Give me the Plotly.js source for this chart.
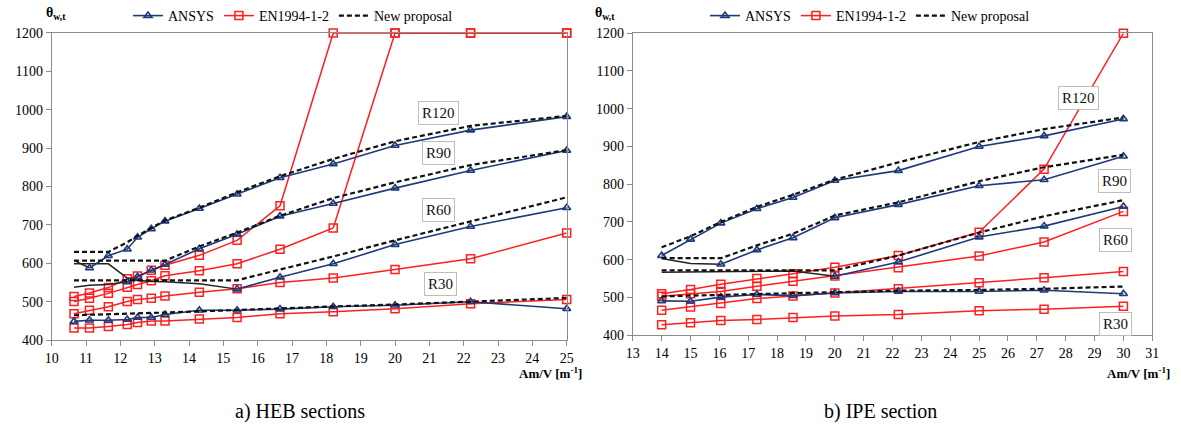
<!DOCTYPE html>
<html><head><meta charset="utf-8">
<script src="https://cdn.plot.ly/plotly-3.0.1.min.js"></script>
<style>html,body{margin:0;padding:0;background:#fff}#chart{width:1181px;height:434px}</style>
</head><body><div id="chart"></div>
<script>
// ---------- HEB sections (left) ----------
const hebX = [10.65, 11.1, 11.65, 12.2, 12.5, 12.9, 13.3, 14.3, 15.4, 16.65, 18.2, 20, 22.2, 25];
const hebAnsysR30 = [449, 452, 452, 454, 459, 459, 467, 478, 478, 481, 487, 491, 500, 482];
const hebAnsysR60EarlyX = [10.65, 11.1, 11.65, 12.2, 12.5, 12.9, 13.3, 14.3, 15.4];
const hebAnsysR60Early = [599, 599, 599, 562, 556, 553, 552, 547, 533];
const hebAnsysR60X = [15.4, 16.65, 18.2, 20, 22.2, 25];
const hebAnsysR60 = [533, 564, 599, 649, 696, 745];
const hebAnsysR90EarlyX = [10.65, 11.1, 11.65, 12.2];
const hebAnsysR90Early = [538, 543, 545, 552];
const hebAnsysR90X = [12.2, 12.5, 12.9, 13.3, 14.3, 15.4, 16.65, 18.2, 20, 22.2, 25];
const hebAnsysR90 = [552, 565, 582, 597, 638, 676, 723, 756, 796, 842, 894];
const hebAnsysR120EarlyX = [10.65, 11.1];
const hebAnsysR120Early = [608, 588];
const hebAnsysR120X = [11.1, 11.65, 12.2, 12.5, 12.9, 13.3, 14.3, 15.4, 16.65, 18.2, 20, 22.2, 25];
const hebAnsysR120 = [588, 620, 637, 668, 690, 710, 743, 780, 823, 859, 907, 947, 982];
const hebEnR30 = [432, 432, 436, 441, 446, 450, 450, 455, 459, 469, 474, 482, 495, 506];
const hebEnR60 = [469, 478, 487, 501, 506, 509, 515, 525, 534, 550, 562, 584, 612, 679];
const hebEnR90 = [501, 509, 522, 538, 545, 555, 568, 581, 599, 637, 692, 1200, 1200, 1200];
const hebEnR120 = [514, 523, 537, 560, 567, 582, 595, 621, 660, 750, 1200, 1200, 1200, 1200];
const hebPropR30 = [465, 466, 467, 469, 470, 471, 472, 475, 479, 483, 488, 493, 501, 510];
const hebPropR60 = [556, 556, 556, 556, 556, 556, 556, 556, 556, 584, 618, 660, 710, 772];
const hebPropR90 = [607, 607, 607, 607, 607, 607, 607, 644, 680, 724, 770, 811, 856, 895];
const hebPropR120 = [630, 630, 630, 655, 672, 692, 712, 745, 785, 827, 872, 918, 958, 984];

// ---------- IPE sections (right) ----------
const ipeX = [14, 15, 16.05, 17.3, 18.55, 20, 22.2, 25, 27.25, 30];
const ipeAnsysR30 = [491, 490, 501, 508, 505, 512, 516, 516, 519, 510];
const ipeAnsysR60EarlyX = [14, 15, 16.05, 17.3, 18.55, 20];
const ipeAnsysR60Early = [567, 568, 568, 570, 570, 556];
const ipeAnsysR60X = [20, 22.2, 25, 27.25, 30];
const ipeAnsysR60 = [556, 594, 660, 689, 741];
const ipeAnsysR90EarlyX = [14, 15, 16.05];
const ipeAnsysR90Early = [603, 590, 588];
const ipeAnsysR90X = [16.05, 17.3, 18.55, 20, 22.2, 25, 27.25, 30];
const ipeAnsysR90 = [588, 626, 658, 711, 746, 796, 812, 874];
const ipeAnsysR120 = [611, 654, 697, 735, 765, 810, 836, 900, 928, 973];
const ipeEnR30 = [428, 433, 439, 442, 447, 451, 455, 465, 469, 477];
const ipeEnR60 = [466, 475, 484, 497, 504, 512, 523, 539, 552, 569];
const ipeEnR90 = [503, 510, 516, 530, 543, 557, 579, 610, 647, 728];
const ipeEnR120 = [510, 521, 535, 550, 563, 580, 611, 673, 840, 1200];
const ipePropR30 = [503, 505, 507, 509, 511, 514, 518, 520, 523, 529];
const ipePropR60 = [572, 572, 572, 572, 572, 572, 611, 672, 715, 758];
const ipePropR90 = [604, 604, 604, 638, 669, 717, 752, 808, 845, 878];
const ipePropR120 = [633, 662, 700, 740, 772, 812, 858, 912, 946, 977];

const seriesNames = ['ANSYS', 'EN1994-1-2', 'New proposal'];
const rLabels = ['R30', 'R60', 'R90', 'R120'];
const captions = ['a) HEB sections', 'b) IPE section'];

const BLUE = '#1f3a78', RED = '#ff1f1f', BLACK = '#111111';
const SERIF = '"Times New Roman", "Liberation Serif", Times, serif';
const traces = [];

function add(x, y, kind, panel, legendShow) {
  const t = {x: x, y: y, type: 'scatter', cliponaxis: false, hoverinfo: 'x+y',
    xaxis: panel === 1 ? 'x' : 'x2', yaxis: panel === 1 ? 'y' : 'y2',
    legend: panel === 1 ? 'legend' : 'legend2', showlegend: !!legendShow};
  if (kind === 'ansys') {
    t.mode = 'lines+markers'; t.name = seriesNames[0];
    t.line = {color: BLUE, width: 1.6};
    t.marker = {symbol: 'triangle-up-open', size: 7, color: BLUE, line: {color: BLUE, width: 1.6}};
  } else if (kind === 'en') {
    t.mode = 'lines+markers'; t.name = seriesNames[1];
    t.line = {color: RED, width: 1.5};
    t.marker = {symbol: 'square-open', size: 8, color: RED, line: {color: RED, width: 1.5}};
  } else if (kind === 'prop') {
    t.mode = 'lines'; t.name = seriesNames[2];
    t.line = {color: BLACK, width: 2.2, dash: '5px,3px'};
  } else {
    t.mode = 'lines'; t.name = 'early';
    t.line = {color: '#222222', width: 1.5};
  }
  traces.push(t);
}

// Left panel
add(hebX, hebEnR30, 'en', 1); add(hebX, hebEnR60, 'en', 1); add(hebX, hebEnR90, 'en', 1); add(hebX, hebEnR120, 'en', 1);
add(hebAnsysR60EarlyX, hebAnsysR60Early, 'early', 1);
add(hebAnsysR90EarlyX, hebAnsysR90Early, 'early', 1);
add(hebAnsysR120EarlyX, hebAnsysR120Early, 'early', 1);
add(hebX, hebAnsysR30, 'ansys', 1); add(hebAnsysR60X, hebAnsysR60, 'ansys', 1);
add(hebAnsysR90X, hebAnsysR90, 'ansys', 1); add(hebAnsysR120X, hebAnsysR120, 'ansys', 1);
add(hebX, hebPropR30, 'prop', 1); add(hebX, hebPropR60, 'prop', 1); add(hebX, hebPropR90, 'prop', 1); add(hebX, hebPropR120, 'prop', 1);
add([null], [null], 'ansys', 1, true); add([null], [null], 'en', 1, true); add([null], [null], 'prop', 1, true);

// Right panel
add(ipeX, ipeEnR30, 'en', 2); add(ipeX, ipeEnR60, 'en', 2); add(ipeX, ipeEnR90, 'en', 2); add(ipeX, ipeEnR120, 'en', 2);
add(ipeAnsysR60EarlyX, ipeAnsysR60Early, 'early', 2);
add(ipeAnsysR90EarlyX, ipeAnsysR90Early, 'early', 2);
add(ipeX, ipeAnsysR30, 'ansys', 2); add(ipeAnsysR60X, ipeAnsysR60, 'ansys', 2);
add(ipeAnsysR90X, ipeAnsysR90, 'ansys', 2); add(ipeX, ipeAnsysR120, 'ansys', 2);
add(ipeX, ipePropR30, 'prop', 2); add(ipeX, ipePropR60, 'prop', 2); add(ipeX, ipePropR90, 'prop', 2); add(ipeX, ipePropR120, 'prop', 2);
add([null], [null], 'ansys', 2, true); add([null], [null], 'en', 2, true); add([null], [null], 'prop', 2, true);

const W = 1181, H = 434;
const px = v => v / W, py = v => 1 - v / H;

const axisCommon = {showline: true, mirror: true, linecolor: '#8c8c8c', linewidth: 1,
  ticks: 'outside', ticklen: 5, tickcolor: '#8c8c8c', showgrid: false, zeroline: false,
  tickfont: {family: SERIF, size: 14, color: '#000'}, fixedrange: true};

const boxStyle = {showarrow: false, xref: 'paper', yref: 'paper', bordercolor: '#bdbdbd', borderwidth: 1,
  borderpad: 3, bgcolor: '#ffffff', font: {family: SERIF, size: 15, color: '#111'}, xanchor: 'center', yanchor: 'middle'};

const annotations = [
  Object.assign({text: rLabels[3], x: px(438), y: py(112)}, boxStyle),
  Object.assign({text: rLabels[2], x: px(438), y: py(152)}, boxStyle),
  Object.assign({text: rLabels[1], x: px(438), y: py(209)}, boxStyle),
  Object.assign({text: rLabels[0], x: px(440), y: py(284)}, boxStyle),
  Object.assign({text: rLabels[3], x: px(1078), y: py(97)}, boxStyle),
  Object.assign({text: rLabels[2], x: px(1114), y: py(180)}, boxStyle),
  Object.assign({text: rLabels[1], x: px(1115), y: py(240)}, boxStyle),
  Object.assign({text: rLabels[0], x: px(1115), y: py(324)}, boxStyle),
  {text: '<b>θ<sub>w,t</sub></b>', x: px(44), y: py(13), xref: 'paper', yref: 'paper', showarrow: false,
   xanchor: 'left', yanchor: 'middle', font: {family: SERIF, size: 14, color: '#000'}},
  {text: '<b>θ<sub>w,t</sub></b>', x: px(593), y: py(13), xref: 'paper', yref: 'paper', showarrow: false,
   xanchor: 'left', yanchor: 'middle', font: {family: SERIF, size: 14, color: '#000'}},
  {text: '<b>Am/V [m<sup>-1</sup>]</b>', x: px(584), y: py(373), xref: 'paper', yref: 'paper', showarrow: false,
   xanchor: 'right', yanchor: 'middle', font: {family: SERIF, size: 13, color: '#000'}},
  {text: '<b>Am/V [m<sup>-1</sup>]</b>', x: px(1172), y: py(373), xref: 'paper', yref: 'paper', showarrow: false,
   xanchor: 'right', yanchor: 'middle', font: {family: SERIF, size: 13, color: '#000'}},
  {text: captions[0], x: px(300), y: py(411), xref: 'paper', yref: 'paper', showarrow: false,
   xanchor: 'center', yanchor: 'middle', font: {family: SERIF, size: 20, color: '#000'}},
  {text: captions[1], x: px(880), y: py(411), xref: 'paper', yref: 'paper', showarrow: false,
   xanchor: 'center', yanchor: 'middle', font: {family: SERIF, size: 20, color: '#000'}}
];

const legendCommon = {orientation: 'h', xanchor: 'left', yanchor: 'middle', bgcolor: 'rgba(0,0,0,0)',
  font: {family: SERIF, size: 14, color: '#000'}, itemwidth: 30, tracegroupgap: 0, traceorder: 'normal'};

const layout = {
  width: W, height: H, margin: {l: 0, r: 0, t: 0, b: 0},
  font: {family: SERIF, size: 14, color: '#000'},
  paper_bgcolor: '#fff', plot_bgcolor: '#fff', hovermode: false,
  xaxis: Object.assign({}, axisCommon, {domain: [px(51.7), px(566.7)], range: [10, 25], dtick: 1, tick0: 10, anchor: 'y'}),
  yaxis: Object.assign({}, axisCommon, {domain: [py(340), py(32)], range: [400, 1200], dtick: 100, anchor: 'x'}),
  xaxis2: Object.assign({}, axisCommon, {domain: [px(632.8), px(1152.3)], range: [13, 31], dtick: 1, tick0: 13, anchor: 'y2'}),
  yaxis2: Object.assign({}, axisCommon, {domain: [py(335), py(32.3)], range: [400, 1200], dtick: 100, anchor: 'x2'}),
  legend: Object.assign({}, legendCommon, {x: px(128), y: py(15)}),
  legend2: Object.assign({}, legendCommon, {x: px(705), y: py(15)}),
  annotations: annotations
};

Plotly.newPlot('chart', traces, layout, {displayModeBar: false, staticPlot: true});
</script>
</body></html>
